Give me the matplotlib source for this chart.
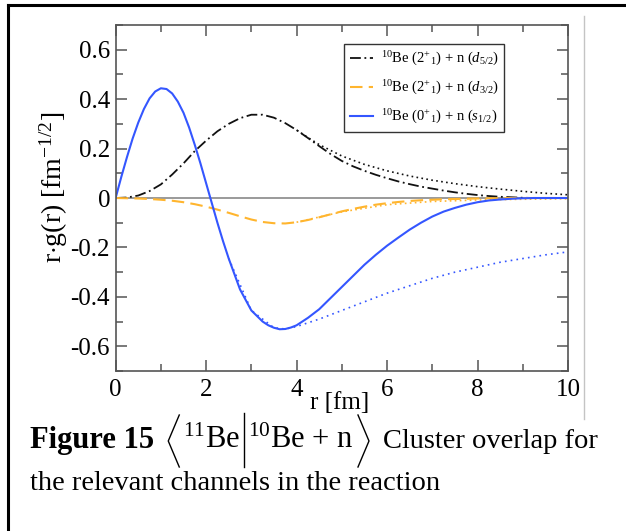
"""
Radial overlaps <11Be | 10Be + n> for the three channels, with the
asymptotic (Whittaker-like) tails drawn as dotted continuations.
"""

import matplotlib
matplotlib.use('Agg')
from matplotlib import pyplot as plt
from matplotlib.lines import Line2D
from matplotlib.ticker import MultipleLocator

plt.rcParams['font.family'] = ['Liberation Serif', 'DejaVu Serif']
plt.rcParams['mathtext.fontset'] = 'custom'
plt.rcParams['mathtext.rm'] = 'Liberation Serif'
plt.rcParams['mathtext.it'] = 'Liberation Serif:italic'
plt.rcParams['mathtext.bf'] = 'Liberation Serif:bold'

# radial grid [fm], 0.25 fm step
r = [0.0, 0.25, 0.5, 0.75, 1.0, 1.25, 1.5, 1.75, 2.0, 2.25, 2.5, 2.75,
     3.0, 3.25, 3.5, 3.75, 4.0, 4.25, 4.5, 4.75, 5.0, 5.25, 5.5, 5.75,
     6.0, 6.25, 6.5, 6.75, 7.0, 7.25, 7.5, 7.75, 8.0, 8.25, 8.5, 8.75,
     9.0, 9.25, 9.5, 9.75, 10.0]

# 10Be(2+_1) + n (d5/2)
g_d52 = [0.0, 0.002, 0.01, 0.028, 0.055, 0.095, 0.14, 0.19, 0.232, 0.27,
         0.3, 0.323, 0.337, 0.337, 0.325, 0.303, 0.275, 0.243, 0.21, 0.178,
         0.15, 0.128, 0.11, 0.094, 0.08, 0.067, 0.056, 0.046, 0.038, 0.03,
         0.023, 0.017, 0.012, 0.008, 0.005, 0.003, 0.001, 0.0, 0.0, 0.0, 0.0]

# 10Be(2+_1) + n (d3/2)
g_d32 = [0.0, -0.001, -0.002, -0.004, -0.007, -0.011, -0.017, -0.025,
         -0.035, -0.047, -0.06, -0.074, -0.087, -0.097, -0.102, -0.103,
         -0.098, -0.089, -0.078, -0.066, -0.054, -0.044, -0.035, -0.027,
         -0.021, -0.016, -0.012, -0.009, -0.007, -0.005, -0.004, -0.003,
         -0.002, -0.001, -0.001, 0.0, 0.0, 0.0, 0.0, 0.0, 0.0]

# 10Be(0+_1) + n (s1/2), finer step where the curve bends quickly
r_s12 = [0.0, 0.125, 0.25, 0.375, 0.5, 0.625, 0.75, 0.875, 1.0, 1.125,
         1.25, 1.375, 1.5, 1.625, 1.75, 1.875, 2.0, 2.125, 2.25, 2.375,
         2.5, 2.75, 3.0, 3.25, 3.375, 3.5, 3.625, 3.75, 3.875, 4.0, 4.25,
         4.5, 4.75, 5.0, 5.25, 5.5, 5.75, 6.0, 6.25, 6.5, 6.75, 7.0, 7.25,
         7.5, 7.75, 8.0, 8.25, 8.5, 8.75, 9.0, 9.25, 9.5, 9.75, 10.0]
g_s12 = [0.0, 0.085, 0.165, 0.24, 0.305, 0.36, 0.403, 0.431, 0.444, 0.441,
         0.423, 0.39, 0.345, 0.285, 0.215, 0.14, 0.06, -0.02, -0.1, -0.175,
         -0.245, -0.37, -0.455, -0.5, -0.515, -0.525, -0.531, -0.53, -0.524,
         -0.515, -0.485, -0.45, -0.405, -0.36, -0.315, -0.27, -0.23, -0.193,
         -0.16, -0.128, -0.1, -0.075, -0.055, -0.04, -0.027, -0.017, -0.01,
         -0.006, -0.003, -0.001, 0.0, 0.0, 0.0, 0.0]

# asymptotic tails
r_tail_d52 = [4.0, 4.25, 4.5, 5.0, 5.5, 6.0, 6.5, 7.0, 7.5, 8.0, 8.5, 9.0, 9.5, 10.0]
tail_d52 = [0.275, 0.245, 0.216, 0.17, 0.136, 0.11, 0.089, 0.072, 0.058,
            0.046, 0.036, 0.027, 0.019, 0.013]

r_tail_d32 = [4.0, 5.0, 6.0, 7.0, 8.0, 9.0, 10.0]
tail_d32 = [-0.098, -0.056, -0.027, -0.014, -0.008, -0.005, -0.003]

r_tail_s12 = [2.5, 3.0, 3.5, 3.75, 4.0, 4.5, 5.0, 5.5, 6.0, 6.5, 7.0, 7.5,
              8.0, 8.5, 9.0, 9.5, 10.0]
tail_s12 = [-0.245, -0.455, -0.525, -0.53, -0.52, -0.49, -0.455, -0.42,
            -0.385, -0.355, -0.325, -0.3, -0.28, -0.26, -0.245, -0.23, -0.218]

labels = [r'$^{10}$Be (2$^{+}$$_{1}$) + n ($d_{5/2}$)',
          r'$^{10}$Be (2$^{+}$$_{1}$) + n ($d_{3/2}$)',
          r'$^{10}$Be (0$^{+}$$_{1}$) + n ($s_{1/2}$)']

black = '#111111'
orange = '#ffb52e'
blue = '#3456ff'
axis_grey = '#555555'

fig = plt.figure(figsize=(6.26, 5.31), dpi=100)
ax = fig.add_axes([0.1847, 0.3013, 0.7227, 0.6516])

ax.axhline(0, color='#9a9a9a', lw=1.4, zorder=1)

ax.plot(r_tail_d52, tail_d52, color=black, lw=1.2, ls=(0, (1, 2)))
ax.plot(r_tail_d32, tail_d32, color=orange, lw=1.2, ls=(0, (1, 2)))
ax.plot(r_tail_s12, tail_s12, color=blue, lw=1.2, ls=(0, (1, 2.5)))

ax.plot(r, g_d52, color=black, lw=1.3, ls=(0, (6, 2, 1, 2)), label=labels[0])
ax.plot(r, g_d32, color=orange, lw=1.5, ls=(0, (6, 3)), label=labels[1])
ax.plot(r_s12, g_s12, color=blue, lw=1.5, label=labels[2])

ax.set_xlim(0, 10)
ax.set_ylim(-0.7, 0.7)
ax.xaxis.set_major_locator(MultipleLocator(2))
ax.xaxis.set_minor_locator(MultipleLocator(1))
ax.yaxis.set_minor_locator(MultipleLocator(0.1))
ax.set_yticks([-0.6, -0.4, -0.2, 0, 0.2, 0.4, 0.6],
              ['-0.6', '-0.4', '-0.2', '0', '0.2', '0.4', '0.6'])

ax.tick_params(which='both', direction='in', top=True, right=True,
               color=axis_grey, labelsize=18, width=1.1)
ax.tick_params(which='major', length=8)
ax.tick_params(which='minor', length=5)
ax.tick_params(axis='x', pad=6)
ax.tick_params(axis='y', pad=4)
for s in ax.spines.values():
    s.set_color(axis_grey)
    s.set_linewidth(1.2)

ax.set_xlabel('r [fm]', fontsize=18)
ax.xaxis.set_label_coords(0.496, -0.06)
ax.set_ylabel(r'r$\cdot$g(r) [fm$^{-1/2}$]', fontsize=20)
ax.yaxis.set_label_coords(-0.10, 0.53)

leg = ax.legend(loc='upper left', bbox_to_anchor=(0.505, 0.945),
                borderaxespad=0, fontsize=10.5, fancybox=False,
                edgecolor='#333333', framealpha=1, handlelength=1.55,
                handletextpad=0.55, labelspacing=0.75, borderpad=0.4)
leg.get_frame().set_linewidth(1.0)

# page frame and separator
W, H = 626, 531


def px(x, y):
    return x / W, 1 - y / H


def fig_line(xs, ys, **kw):
    fx = [x / W for x in xs]
    fy = [1 - y / H for y in ys]
    fig.add_artist(Line2D(fx, fy, transform=fig.transFigure, **kw))


fig_line([8, W], [5, 5], color='black', lw=2.2)
fig_line([8, 8], [5, H], color='black', lw=2.2)
fig_line([584, 584], [16, 419], color='#c4c4c4', lw=1.0)

# caption; the first line is laid out piece by piece so the bra-ket
# delimiters can be drawn full height
renderer = fig.canvas.get_renderer()
cap_size = 20.5
base1 = 448


def put(x, s, ha='left', size=cap_size, **kw):
    t = fig.text(*px(x, base1), s, fontsize=size, va='baseline', ha=ha, **kw)
    bb = t.get_window_extent(renderer)
    return t, bb.x0, bb.x1


_, _, x_fig = put(30, 'Figure 15', size=22, fontweight='bold')
_, x_tail, _ = put(598, 'Cluster overlap for', ha='right')

# measure the inner pieces first, then spread them between the two ends
t_a, a0, a1 = put(0, r'$^{11}$Be', size=22)
t_b, b0, b1 = put(0, r'$^{10}$Be + n', size=22)
w_a, w_b = a1 - a0, b1 - b0
angle_w, bar_gap = 11, 4
free = (x_tail - x_fig) - (w_a + w_b + 2 * angle_w + 4 * bar_gap)
gap = free / 2

top, mid, bot = 415, 441, 467
x = x_fig + gap
fig_line([x + angle_w, x, x + angle_w], [top, mid, bot], color='black', lw=1.0)
x += angle_w + bar_gap
t_a.set_position(px(x, base1))
x += w_a + bar_gap
fig_line([x, x], [top - 2, bot], color='black', lw=1.0)
x += bar_gap
t_b.set_position(px(x, base1))
x += w_b + bar_gap
fig_line([x, x + angle_w, x], [top, mid, bot], color='black', lw=1.0)

fig.text(*px(30, 490), 'the relevant channels in the reaction',
         fontsize=cap_size, va='baseline', ha='left')

fig.savefig('out.png', dpi=100)
